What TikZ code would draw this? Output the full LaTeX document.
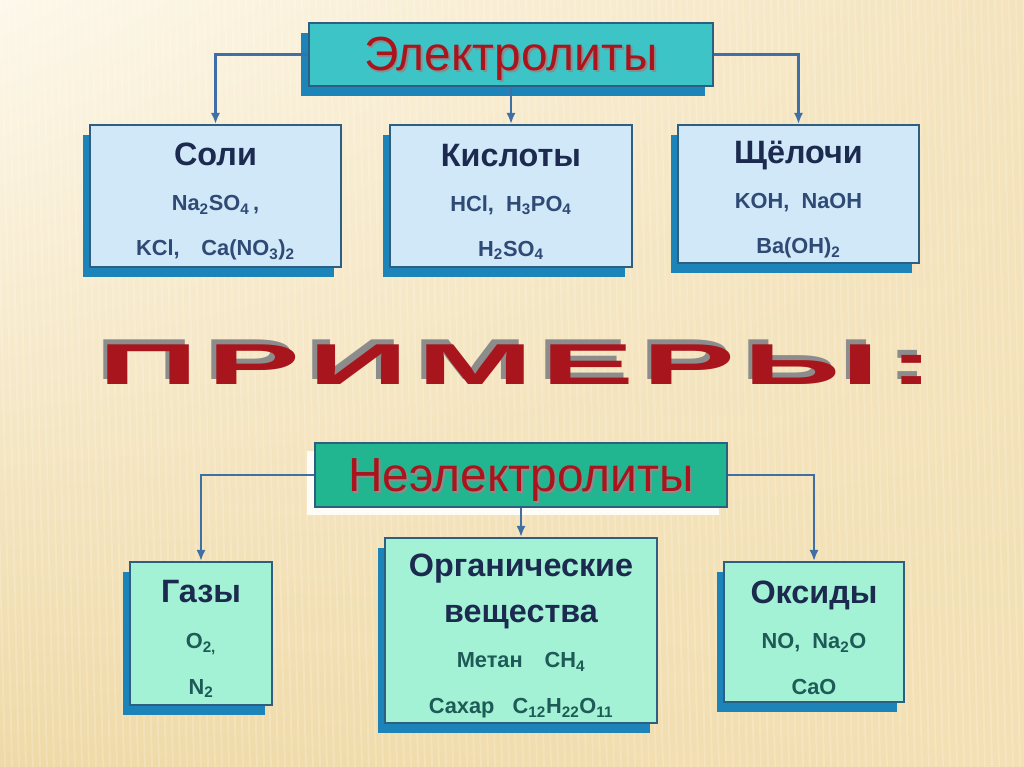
\documentclass[tikz,border=0pt]{standalone}
\usepackage{fontspec}
\setmainfont{Liberation Sans}
\usepackage{graphicx}
\usetikzlibrary{arrows.meta,shadows,shadings}

\definecolor{bgul}{HTML}{FDF8EA}
\definecolor{bgur}{HTML}{F4E3BC}
\definecolor{bgll}{HTML}{EFD9A6}
\definecolor{bglr}{HTML}{F3E0B4}
\definecolor{headteal}{HTML}{3CC4C6}
\definecolor{headgreen}{HTML}{22B690}
\definecolor{boxline}{HTML}{2E5E80}
\definecolor{shadowblue}{HTML}{1C84B8}
\definecolor{paleblue}{HTML}{D0E8F8}
\definecolor{mint}{HTML}{A3F2D5}
\definecolor{linkblue}{HTML}{3F6FA5}
\definecolor{titlenavy}{HTML}{1B2A4E}
\definecolor{titlered}{HTML}{A8151C}
\definecolor{textgray}{HTML}{8C8C8C}
\definecolor{formblue}{HTML}{2F4A75}
\definecolor{formgreen}{HTML}{1E5B57}

\newcommand\shadowtext[1]{\rlap{\textcolor{textgray}{\kern1.2pt\raisebox{-1.2pt}{#1}}}#1}
\newcommand\upshadowtext[1]{\rlap{\textcolor{textgray}{\kern-1.4pt\raisebox{3pt}{#1}}}#1}
\newcommand\boxtitle[1]{{\fontsize{23}{28}\selectfont\color{titlenavy}\rule{0pt}{24pt}#1}}

\begin{document}
\begin{tikzpicture}[x=0.025cm,y=-0.025cm,
  headbox/.style={draw=boxline,line width=1.3pt,text=titlered,font=\fontsize{34}{40}\selectfont,
    text height=23.4pt,text depth=0pt},
  elbox/.style={draw=boxline,line width=1.3pt,fill=paleblue,align=center,text=formblue,
    font=\fontsize{15.5}{32}\selectfont\bfseries,
    drop shadow={shadow xshift=-5pt,shadow yshift=-7pt,fill=shadowblue,opacity=1}},
  nonbox/.style={elbox,fill=mint,text=formgreen,font=\fontsize{15.5}{32.5}\selectfont\bfseries},
  link/.style={draw=linkblue,line width=1.6pt,-{Latex[length=2.8mm,width=2.3mm]}}]

% background
\useasboundingbox (0,0) rectangle (1024,767);
\shade[upper left=bgul,upper right=bgur,lower left=bgll,lower right=bglr] (0,0) rectangle (1024,767);
\foreach \sx in {-20,-13,...,1024}
  \draw[white,opacity=0.18,line width=1.4pt] (\sx,0) -- (\sx+18,767);

% electrolytes
\node[headbox,fill=headteal,minimum width=10.1cm,minimum height=1.575cm,
  drop shadow={shadow xshift=-5.7pt,shadow yshift=-7pt,fill=shadowblue,opacity=1}] (elec) at (511,54.5) {\shadowtext{Электролиты}};
\node[elbox,minimum width=6.275cm,minimum height=3.55cm] (soli) at (215.5,196)
  {\boxtitle{Соли}\\Na\textsubscript{2}SO\textsubscript{4}\,,\\KCl,\quad Ca(NO\textsubscript{3})\textsubscript{2}};
\node[elbox,minimum width=6.05cm,minimum height=3.55cm] (kisl) at (511,196)
  {\boxtitle{Кислоты}\\HCl,\; H\textsubscript{3}PO\textsubscript{4}\\H\textsubscript{2}SO\textsubscript{4}};
\node[elbox,minimum width=6.025cm,minimum height=3.45cm] (shch) at (798.5,194)
  {\boxtitle{Щёлочи}\\KOH,\; NaOH\\Ba(OH)\textsubscript{2}};
\draw[link] (elec.west) -| (soli.north);
\draw[link] (elec.south) -- (kisl.north);
\draw[link] (elec.east) -| (shch.north);

% examples
\node[anchor=base,text=titlered,inner sep=0pt,font=\fontsize{41}{46}\selectfont\bfseries\addfontfeature{LetterSpace=6}] (primery) at (517,384)
  {\resizebox{20.9cm}{\height}{\upshadowtext{ПРИМЕРЫ:}}};

% non-electrolytes
\node[headbox,fill=headgreen,minimum width=10.3cm,minimum height=1.6cm,
  drop shadow={shadow xshift=-5.7pt,shadow yshift=-5.7pt,fill=white!60!bgul,opacity=1}] (nonel) at (521,475) {\shadowtext{Неэлектролиты}};
\node[nonbox,minimum width=3.55cm,minimum height=3.575cm] (gazy) at (201,633.5)
  {\boxtitle{Газы}\\O\textsubscript{2,}\\N\textsubscript{2}};
\node[nonbox,minimum width=6.8cm,minimum height=4.625cm] (org) at (521,630.5)
  {\boxtitle{Органические}\\\boxtitle{вещества}\\Метан\quad CH\textsubscript{4}\\Сахар\;\; C\textsubscript{12}H\textsubscript{22}O\textsubscript{11}};
\node[nonbox,minimum width=4.5cm,minimum height=3.5cm] (oks) at (814,632)
  {\boxtitle{Оксиды}\\NO,\; Na\textsubscript{2}O\\CaO};
\draw[link] (nonel.west) -| (gazy.north);
\draw[link] (nonel.south) -- (org.north);
\draw[link] (nonel.east) -| (oks.north);
\end{tikzpicture}
\end{document}
